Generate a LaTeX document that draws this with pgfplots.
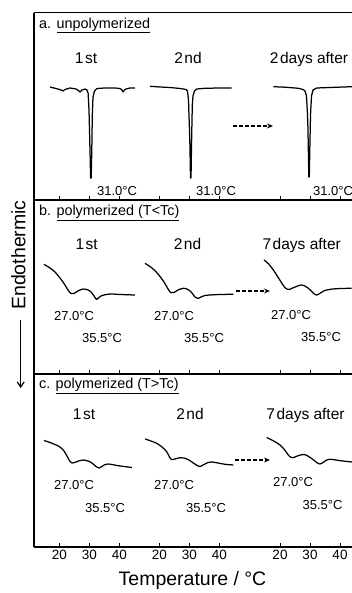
\documentclass[border=0pt]{standalone}
\usepackage{pgfplots}
\pgfplotsset{compat=1.18}
\usepackage{pgfplotstable}
\usepackage{fontspec}
\setmainfont{Liberation Sans}
\usetikzlibrary{arrows.meta}

% ---- panel a (unpolymerized) ----
\pgfplotstableread{
T S
16.9 -87
18.9 -88.5
20.6 -90
21.2 -91
21.9 -89.5
23.6 -88
25.6 -89
26.6 -91
26.9 -92
27.6 -90
28.6 -89
29.2 -90
29.6 -93
29.9 -110
30.23 -150
30.43 -178
30.63 -178
30.83 -150
31.0 -115
31.23 -97
31.73 -91
32.57 -88.5
35.23 -88
38.57 -88
40.23 -88.5
40.9 -90
41.23 -92
41.73 -90
42.23 -89
43.57 -88
45.23 -88
}\aone
\pgfplotstableread{
T S
16.9 -86.3
20.23 -87
23.57 -87.5
26.9 -88.5
28.9 -89.5
29.4 -91
29.73 -100
30.17 -140
30.4 -178
30.57 -178
30.77 -140
31.0 -105
31.23 -96
31.73 -91
32.47 -89
35.23 -88.3
40.23 -88
44.13 -88
}\atwo
\pgfplotstableread{
T S
17.77 -86.7
21.67 -87.2
26.1 -88.3
27.67 -89.5
28.33 -91
28.83 -96
29.17 -115
29.33 -130
29.5 -160
29.6 -177
29.77 -177
29.93 -150
30.17 -115
30.5 -96
31.0 -90
32.23 -88
36.67 -87.5
44.0 -86.7
}\athree
% ---- panel b ----
\pgfplotstableread{
T S
14.9 -264.3
16.9 -268
18.57 -272
20.23 -278
21.9 -285
22.9 -290
23.9 -293.5
24.9 -293.5
26.23 -291
27.9 -289
29.23 -289.5
30.57 -292
31.57 -296
32.4 -299.5
32.9 -298.5
33.9 -296
35.57 -294.5
37.57 -294
40.23 -294.5
45.23 -295
}\bone
\pgfplotstableread{
T S
15.23 -263.3
17.57 -268
19.57 -274
21.57 -282
22.9 -289
23.9 -292.7
24.9 -292.5
26.23 -290
28.0 -288.3
29.57 -289.5
30.9 -293
31.9 -297
33.0 -298.3
33.9 -297
35.23 -295.5
36.9 -295
40.23 -294.5
44.67 -294.3
}\btwo
\pgfplotstableread{
T S
14.67 -260
16.23 -264
17.9 -270.5
19.57 -278.3
21.23 -286
22.23 -289
23.07 -289.5
24.23 -288
25.9 -286
27.23 -285
28.57 -286.5
29.9 -289.5
31.23 -293.5
32.23 -295
33.23 -293.5
34.57 -291
35.57 -290
37.57 -289
40.23 -288.5
43.9 -288.3
}\bthree
% ---- panel c ----
\pgfplotstableread{
T S
14.9 -440.5
16.9 -442.5
18.57 -444.5
20.23 -447
21.57 -451
22.57 -456
23.57 -461.5
24.23 -463
25.57 -462
26.9 -460.5
28.23 -460
29.57 -461
30.9 -463
32.23 -466.5
33.33 -468
34.23 -466.5
35.23 -464.5
36.4 -464
37.57 -464.5
39.23 -465.5
41.57 -466.5
44.23 -467.5
}\cone
\pgfplotstableread{
T S
15.23 -439
17.23 -441
19.13 -443.3
20.9 -447
22.47 -451.7
23.4 -457
24.07 -459.5
25.23 -459
26.9 -457.7
28.23 -458
29.9 -460
31.57 -463.5
33.4 -466.5
34.57 -465
36.23 -462.5
37.57 -462
39.57 -463
41.9 -464.3
44.67 -465
}\ctwo
\pgfplotstableread{
T S
15.57 -437.5
17.57 -440.5
20.0 -445
21.57 -450
22.77 -455
23.73 -457.5
24.57 -457.5
26.23 -455.5
28.07 -454.5
29.57 -456.5
31.23 -460
32.23 -462.5
33.33 -464
34.57 -462
35.57 -460
36.9 -459.3
38.57 -460
40.9 -461
44.0 -462
}\cthree

\newcommand\ftitle{\fontsize{14.4}{16}\selectfont}
\newcommand\fhead{\fontsize{15.5}{17}\selectfont}
\newcommand\fpk{\fontsize{13}{14}\selectfont}

\pgfplotsset{
  panel/.style={
    scale only axis, width=318pt, anchor=south west,
    xmin=11.567, xmax=117.567,
    axis x line=box, axis y line=left,
    axis line style={-, line width=1.2pt},
    x axis line style={-}, y axis line style={-},
    ytick=\empty,
    xtick={20,30,40,53.333,63.333,73.333,93.567,103.567,113.567},
    xtick pos=left,
    tick align=inside,
    major tick length=3.5pt,
    tick style={black, line width=0.9pt},
    ticklabel style={font=\fontsize{13.5}{14}\selectfont},
    /pgf/number format/assume math mode=true,
    clip=false,
  },
  curve/.style={black, line width=1.25pt, mark=none, line join=round},
  scurve/.style={curve, smooth, tension=0.5},
}

\begin{document}
\begin{tikzpicture}
\useasboundingbox (0,0) rectangle (352pt,593pt);

% panel a
\begin{axis}[panel, at={(34pt,393pt)}, height=187.3pt, ymin=-200, ymax=-12.7, xticklabels=\empty]
\addplot[curve] table[x expr=\thisrow{T}, y=S] {\aone};
\addplot[curve] table[x expr=\thisrow{T}+33.333, y=S] {\atwo};
\addplot[curve] table[x expr=\thisrow{T}+73.567, y=S] {\athree};
\end{axis}

% panel b
\begin{axis}[panel, at={(34pt,219pt)}, height=174pt, ymin=-374, ymax=-200, xticklabels=\empty]
\addplot[scurve] table[x expr=\thisrow{T}, y=S] {\bone};
\addplot[scurve] table[x expr=\thisrow{T}+33.333, y=S] {\btwo};
\addplot[scurve] table[x expr=\thisrow{T}+73.567, y=S] {\bthree};
\end{axis}

% panel c
\begin{axis}[panel, at={(34pt,46pt)}, height=173pt, ymin=-547, ymax=-374,
  xticklabels={20,30,40,20,30,40,20,30,40}]
\addplot[scurve] table[x expr=\thisrow{T}, y=S] {\cone};
\addplot[scurve] table[x expr=\thisrow{T}+33.333, y=S] {\ctwo};
\addplot[scurve] table[x expr=\thisrow{T}+73.567, y=S] {\cthree};
\end{axis}

% titles
\node[anchor=base west, inner sep=0pt] at (39pt,564.7pt) {\ftitle a. \underline{unpolymerized}};
\node[anchor=base west, inner sep=0pt] at (39pt,377pt) {\ftitle b. \underline{polymerized (T<Tc)}};
\node[anchor=base west, inner sep=0pt] at (39pt,204pt) {\ftitle c. \underline{polymerized (T>Tc)}};

% headers
\node[anchor=base, inner sep=0pt] at (86pt,529.7pt) {\fhead 1\kern1.5pt st};
\node[anchor=base, inner sep=0pt] at (188pt,529.7pt) {\fhead 2\kern1.5pt nd};
\node[anchor=base, inner sep=0pt] at (309pt,529.7pt) {\fhead 2\kern1.5pt days after};
\node[anchor=base, inner sep=0pt] at (86.7pt,343.7pt) {\fhead 1\kern1.5pt st};
\node[anchor=base, inner sep=0pt] at (187.5pt,343.7pt) {\fhead 2\kern1.5pt nd};
\node[anchor=base, inner sep=0pt] at (301.7pt,343.7pt) {\fhead 7\kern1.5pt days after};
\node[anchor=base, inner sep=0pt] at (84pt,173pt) {\fhead 1\kern1.5pt st};
\node[anchor=base, inner sep=0pt] at (190pt,173pt) {\fhead 2\kern1.5pt nd};
\node[anchor=base, inner sep=0pt] at (305.5pt,173pt) {\fhead 7\kern1.5pt days after};

% peak labels a
\node[anchor=base, inner sep=0pt] at (117pt,397pt) {\fpk 31.0°C};
\node[anchor=base, inner sep=0pt] at (216pt,397pt) {\fpk 31.0°C};
\node[anchor=base, inner sep=0pt] at (333pt,397pt) {\fpk 31.0°C};
% peak labels b
\node[anchor=base, inner sep=0pt] at (74pt,272pt) {\fpk 27.0°C};
\node[anchor=base, inner sep=0pt] at (174pt,272pt) {\fpk 27.0°C};
\node[anchor=base, inner sep=0pt] at (291pt,273pt) {\fpk 27.0°C};
\node[anchor=base, inner sep=0pt] at (102pt,250pt) {\fpk 35.5°C};
\node[anchor=base, inner sep=0pt] at (204pt,250pt) {\fpk 35.5°C};
\node[anchor=base, inner sep=0pt] at (321pt,251.3pt) {\fpk 35.5°C};
% peak labels c
\node[anchor=base, inner sep=0pt] at (74pt,103pt) {\fpk 27.0°C};
\node[anchor=base, inner sep=0pt] at (174pt,103pt) {\fpk 27.0°C};
\node[anchor=base, inner sep=0pt] at (293pt,106.3pt) {\fpk 27.0°C};
\node[anchor=base, inner sep=0pt] at (105pt,80pt) {\fpk 35.5°C};
\node[anchor=base, inner sep=0pt] at (206pt,80pt) {\fpk 35.5°C};
\node[anchor=base, inner sep=0pt] at (322.5pt,83pt) {\fpk 35.5°C};

% dashed arrows
\draw[line width=1.1pt, dash pattern=on 3.5pt off 2.5pt, -{Stealth[length=6pt,width=5pt]}] (233pt,467pt) -- (273pt,467pt);
\draw[line width=1.1pt, dash pattern=on 3.5pt off 2.5pt, -{Stealth[length=6pt,width=5pt]}] (236pt,302pt) -- (270pt,302pt);
\draw[line width=1.1pt, dash pattern=on 3.5pt off 2.5pt, -{Stealth[length=6pt,width=5pt]}] (235pt,133pt) -- (270pt,133pt);

% axis titles
\node[anchor=base, inner sep=0pt] at (192.5pt,7pt) {\fontsize{19.5}{21}\selectfont Temperature / °C};
\node[rotate=90, inner sep=0pt] at (18.5pt,338pt) {\fontsize{19.5}{21}\selectfont Endothermic};
\draw[line width=1.2pt, -{Straight Barb[length=5pt,width=7pt]}] (20.7pt,273pt) -- (20.7pt,205pt);
\end{tikzpicture}
\end{document}
